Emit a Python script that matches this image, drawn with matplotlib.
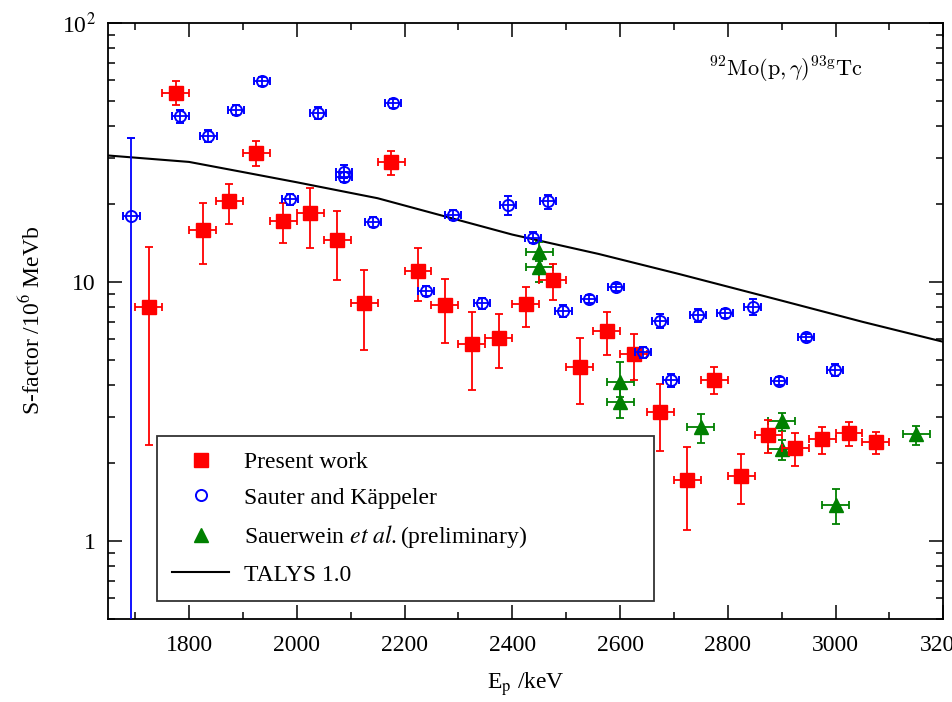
import numpy as np
import matplotlib.pyplot as plt
from matplotlib.lines import Line2D
from matplotlib.ticker import FixedLocator, FixedFormatter, MultipleLocator, NullFormatter

plt.rcParams['font.family'] = ['Liberation Serif', 'DejaVu Serif']
plt.rcParams['mathtext.fontset'] = 'stix'

# Present work (red squares): energy, S-factor, lower / upper bounds
present_E = [1725, 1775, 1825, 1875, 1925, 1975, 2025, 2075, 2125, 2175,
             2225, 2275, 2325, 2375, 2425, 2475, 2525, 2575, 2625, 2675,
             2725, 2775, 2825, 2875, 2925, 2975, 3025, 3075]
present_S = [8.0, 53.7, 15.8, 20.4, 31.5, 17.1, 18.4, 14.5, 8.25, 29.0,
             11.0, 8.13, 5.73, 6.05, 8.2, 10.15, 4.7, 6.47, 5.25, 3.13,
             1.72, 4.17, 1.77, 2.57, 2.27, 2.46, 2.61, 2.41]
present_lo = [2.34, 48.0, 11.7, 16.7, 28.0, 14.1, 13.5, 10.15, 5.44, 25.8,
              8.4, 5.8, 3.82, 4.66, 6.7, 8.5, 3.37, 5.2, 4.17, 2.22,
              1.10, 3.7, 1.38, 2.19, 1.94, 2.16, 2.33, 2.16]
present_hi = [13.6, 59.7, 20.1, 23.8, 35.0, 20.1, 22.9, 18.8, 11.1, 31.9,
              13.5, 10.2, 7.66, 7.48, 9.56, 11.7, 6.05, 7.66, 6.27, 4.02,
              2.31, 4.7, 2.16, 2.93, 2.61, 2.74, 2.88, 2.63]
present_dE = 25

# Sauter and Kaeppeler (blue open circles)
sauter_E = [1693, 1784, 1836, 1887, 1935, 1988, 2039, 2088, 2088, 2141,
            2178, 2240, 2290, 2343, 2392, 2439, 2467, 2495, 2543, 2592,
            2643, 2674, 2695, 2744, 2795, 2846, 2895, 2945, 2999]
sauter_S = [17.9, 43.6, 36.6, 46.0, 59.4, 20.8, 44.9, 26.6, 25.4, 17.05,
            48.9, 9.23, 18.1, 8.25, 19.8, 14.8, 20.4, 7.73, 8.55, 9.51,
            5.34, 7.05, 4.17, 7.42, 7.55, 8.0, 4.14, 6.1, 4.56]
sauter_lo = [0.3, 41.1, 34.6, 44.0, 56.9, 19.8, 42.4, 25.1, 24.2, 16.25,
             46.9, 8.83, 17.3, 7.85, 18.1, 14.1, 19.1, 7.33, 8.25, 9.21,
             5.09, 6.6, 3.92, 6.97, 7.25, 7.45, 3.99, 5.9, 4.31]
sauter_hi = [35.8, 46.1, 38.6, 48.0, 61.9, 21.8, 47.4, 28.1, 26.6, 17.85,
             50.9, 9.63, 18.9, 8.65, 21.5, 15.5, 21.7, 8.13, 8.85, 9.81,
             5.59, 7.5, 4.42, 7.87, 7.85, 8.55, 4.29, 6.3, 4.81]
sauter_dE = 15

# Sauerwein et al. (green triangles)
sauerwein_E = [2450, 2450, 2600, 2600, 2750, 2900, 2900, 3000, 3150]
sauerwein_S = [13.05, 11.4, 4.11, 3.44, 2.75, 2.9, 2.26, 1.37, 2.58]
sauerwein_lo = [12.0, 10.0, 3.6, 2.97, 2.39, 2.65, 2.05, 1.16, 2.34]
sauerwein_hi = [14.2, 12.8, 4.89, 3.9, 3.09, 3.12, 2.45, 1.58, 2.77]
sauerwein_dE = 25

# TALYS 1.0 curve
talys_E = [1650, 1800, 1900, 2000, 2150, 2400, 2560, 2710, 2900, 3050, 3200]
talys_S = [30.7, 29.0, 26.5, 24.2, 21.0, 15.2, 12.8, 10.7, 8.45, 7.0, 5.86]


def asym(v, lo, hi):
    v, lo, hi = np.array(v), np.array(lo), np.array(hi)
    return [v - lo, hi - v]


fig = plt.figure(figsize=(9.53, 7.02), dpi=100)
ax = fig.add_axes([0.1136, 0.1187, 0.8762, 0.8490])

ax.plot(talys_E, talys_S, color='black', lw=1.5, zorder=2)

ax.errorbar(sauerwein_E, sauerwein_S, yerr=asym(sauerwein_S, sauerwein_lo, sauerwein_hi),
            xerr=sauerwein_dE, fmt='^', color='#008000', ms=10, elinewidth=1.3,
            capsize=3, capthick=1.3, zorder=3)
ax.errorbar(present_E, present_S, yerr=asym(present_S, present_lo, present_hi),
            xerr=present_dE, fmt='s', color='#ff0000', ms=9.5, elinewidth=1.3,
            capsize=3, capthick=1.3, zorder=4)
ax.errorbar(sauter_E, sauter_S, yerr=asym(sauter_S, sauter_lo, sauter_hi),
            xerr=sauter_dE, fmt='o', color='#0000ff', mfc='none', ms=8, mew=1.4,
            elinewidth=1.3, capsize=3, capthick=1.3, zorder=5)

ax.set_yscale('log')
ax.set_xlim(1650, 3200)
ax.set_ylim(0.5, 100)

ax.xaxis.set_major_locator(MultipleLocator(200))
ax.xaxis.set_minor_locator(MultipleLocator(100))
ax.yaxis.set_major_locator(FixedLocator([1, 10, 100]))
ax.yaxis.set_major_formatter(FixedFormatter(['1', '10', r'10$^2$']))
ax.yaxis.set_minor_formatter(NullFormatter())

ax.tick_params(which='both', direction='in', top=True, right=True, labelsize=17)
ax.tick_params(axis='x', which='major', length=10, width=1.1, pad=12)
ax.tick_params(axis='x', which='minor', length=5, width=1.1)
ax.tick_params(axis='y', which='major', length=10, width=1.1, pad=9)
ax.tick_params(axis='y', which='minor', length=5, width=1.1)
for s in ax.spines.values():
    s.set_linewidth(1.3)

ax.set_xlabel(r'E$_\mathrm{p}$ /keV', fontsize=17, labelpad=10)
ax.set_ylabel(r'S-factor /10$^6$ MeVb', fontsize=17, labelpad=12)

ax.text(0.72, 0.91, r'$^{92}\mathrm{Mo(p,}\gamma\mathrm{)}^{93\mathrm{g}}\mathrm{Tc}$',
        transform=ax.transAxes, fontsize=16, math_fontfamily='cm')

handles = [
    Line2D([], [], marker='s', color='#ff0000', ls='none', ms=9.5),
    Line2D([], [], marker='o', color='#0000ff', mfc='none', mew=1.4, ls='none', ms=8),
    Line2D([], [], marker='^', color='#008000', ls='none', ms=10),
    Line2D([], [], color='black', lw=1.5),
]
labels = ['Present work', 'Sauter and Käppeler',
          r'Sauerwein $\it{et\ al.}$(preliminary)', 'TALYS 1.0']
leg = ax.legend(handles, labels, loc='lower left',
                bbox_to_anchor=(0.0583, 0.0297, 0.595, 0.278), mode='expand',
                borderaxespad=0, fontsize=17, frameon=True, fancybox=False,
                edgecolor='#333333', framealpha=1, handlelength=2.4,
                handletextpad=0.65, borderpad=0.65, labelspacing=0.6)
leg.get_frame().set_linewidth(1.3)

fig.savefig('out.png', dpi=100)
